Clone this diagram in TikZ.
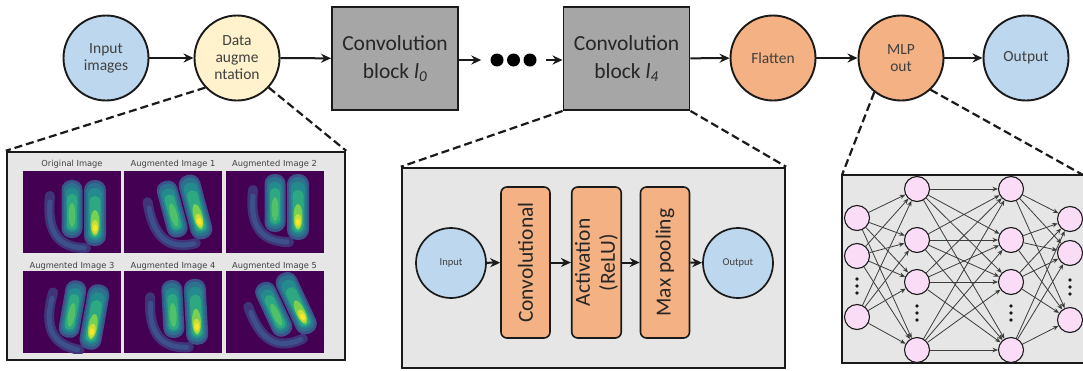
\documentclass[tikz,border=0pt]{standalone}
\usepackage{fontspec}
\setmainfont{Carlito}
\newfontfamily\plotfont{DejaVu Sans}
\usetikzlibrary{arrows.meta}

\definecolor{cblue}{HTML}{BDD7EE}
\definecolor{cyellow}{HTML}{FFF2CC}
\definecolor{corange}{HTML}{F4B183}
\definecolor{cgray}{HTML}{A6A6A6}
\definecolor{cpanel}{HTML}{E6E6E6}
\definecolor{cpink}{HTML}{FADCF6}
\definecolor{vpurple}{HTML}{440154}
\definecolor{vband}{HTML}{3E4A89}
\definecolor{v1}{HTML}{3B528B}
\definecolor{v2}{HTML}{2C728E}
\definecolor{v3}{HTML}{21918C}
\definecolor{v4}{HTML}{35B779}
\definecolor{v5}{HTML}{7AD151}
\definecolor{v6}{HTML}{FDE725}
\definecolor{ink}{HTML}{1A1A1A}
\definecolor{txt}{HTML}{404040}

\newcommand\capsule[5]{%
 \fill[#5, rounded corners=#3*0.46pt] (#1-#3/2,#2-#4/2) rectangle (#1+#3/2,#2+#4/2);}

\newcommand\heatmap[4]{%
\begin{scope}
\clip (#1,#2) rectangle ++(98,82);
\fill[vpurple] (#1,#2) rectangle ++(98,82);
\begin{scope}[shift={(#1+49,#2+41+#4)}, rotate=#3]
 \draw[vband!70!vpurple, line width=10pt, line cap=round] (-22,-16) .. controls (-26,22) and (-12,36) .. (14,36);
 \draw[v1!80!vband, line width=5pt, line cap=round] (-22,-10) .. controls (-25,22) and (-12,35) .. (12,36);
 \capsule{0}{-3}{21}{58}{v1}
 \capsule{0}{-3}{17}{52}{v2}
 \capsule{0}{-2}{13}{44}{v3!80!v2}
 \capsule{0}{0}{10}{36}{v3!40!v4}
 \fill[v4!60!v5] (0,3) ellipse [x radius=3.5, y radius=12];
 \capsule{23}{1}{22}{66}{v1}
 \capsule{23}{1}{18}{60}{v2}
 \capsule{23}{2}{14}{52}{v3!80!v2}
 \capsule{23}{5}{11}{42}{v3!40!v4}
 \fill[v5] (23,11) ellipse [x radius=4.5, y radius=13];
 \fill[v5!40!v6] (23,15) ellipse [x radius=3.5, y radius=7];
 \fill[v6] (23,16) ellipse [x radius=2.2, y radius=3.5];
\end{scope}
\end{scope}}

\begin{document}
\begin{tikzpicture}[x=1pt,y=-1pt,
  bubble/.style={circle, draw=ink, line width=1.9pt, minimum size=85pt, inner sep=0pt, align=center, text=txt, font=\fontsize{15.5}{17}\selectfont},
  smallbubble/.style={circle, draw=ink, line width=1.7pt, minimum size=70pt, inner sep=0pt, fill=cblue, text=txt, font=\fontsize{10.5}{12}\selectfont},
  convbox/.style={draw=ink, line width=1.9pt, fill=cgray, minimum width=126pt, minimum height=103pt, align=center, text=black!85, font=\fontsize{21.5}{28}\selectfont},
  bigdot/.style={circle, fill=black, minimum size=13pt, inner sep=0pt},
  flow/.style={-{Stealth[length=10pt,width=9pt]}, line width=2pt, draw=ink},
  zoomline/.style={dash pattern=on 8pt off 4pt, line width=2.2pt, draw=ink},
  panel/.style={draw=ink, line width=2.4pt, fill=cpanel, inner sep=0pt},
  layerbox/.style={draw=ink, line width=1.6pt, fill=corange, rounded corners=6pt, rotate=90, minimum width=151pt, minimum height=49pt, align=center, text=black!85, font=\fontsize{21.5}{25}\selectfont},
  neuron/.style={circle, draw=ink, line width=1.1pt, fill=cpink, minimum size=25pt, inner sep=0pt},
  nnedge/.style={-{Stealth[length=5.5pt,width=4.5pt]}, line width=0.8pt, draw=ink!85},
  ttl/.style={font=\plotfont\fontsize{8.3}{10}\selectfont, text=black!75, inner sep=0pt}
]
\useasboundingbox (0,0) rectangle (1083,370);
\fill[white] (0,0) rectangle (1083,370);

% ---------- top row ----------
\node[bubble, fill=cblue] (in) at (106,58) {Input\\images};
\node[bubble, fill=cyellow] (aug) at (237,58) {Data\\augme\\ntation};
\node[convbox] (c0) at (395,58.5) {Convolution\\block \textit{l\textsubscript{0}}};
\node[bigdot] (d1) at (497,60) {};
\node[bigdot] (d2) at (513.5,60) {};
\node[bigdot] (d3) at (530,60) {};
\node[convbox] (c4) at (626.5,58.5) {Convolution\\block \textit{l\textsubscript{4}}};
\node[bubble, fill=corange] (fl) at (773,58) {Flatten};
\node[bubble, fill=corange] (mlp) at (901,58) {MLP\\out};
\node[bubble, fill=cblue] (out) at (1026,58) {Output};

\draw[flow] (in) -- (aug);
\draw[flow] (aug) -- (c0);
\draw[flow, shorten >=9pt] (c0.east |- d1) -- (d1.west);
\draw[flow, shorten <=9pt] (d3.east) -- (c4.west |- d3);
\draw[flow] (c4) -- (fl);
\draw[flow] (fl) -- (mlp);
\draw[flow] (mlp) -- (out);

% ---------- panels ----------
\node[panel, minimum width=338pt, minimum height=208pt] (p1) at (176,256) {};
\node[panel, minimum width=383pt, minimum height=200pt] (p2) at (593.5,268) {};
\coordinate (p3nw) at (842,175);
\coordinate (p3ne) at (1083,175);
\fill[cpanel] (842,175) rectangle (1083,363);
\draw[draw=ink, line width=2.4pt] (1083,175) -- (842,175) -- (842,363) -- (1083,363);

\draw[zoomline] (aug.223) -- (p1.north west);
\draw[zoomline] (aug.-43) -- (p1.north east);
\draw[zoomline] (c4.south west) -- (p2.north west);
\draw[zoomline] (c4.south east) -- (p2.north east);
\draw[zoomline] (mlp.232) -- (p3nw);
\draw[zoomline] (mlp.-47) -- (p3ne);

% ---------- panel 1: augmented images ----------
\node[ttl] (t1) at (72,164) {Original Image};
\node[ttl] (t2) at (173,164) {Augmented Image 1};
\node[ttl] (t3) at (274.5,164) {Augmented Image 2};
\node[ttl] (t4) at (72,266) {Augmented Image 3};
\node[ttl] (t5) at (173,266) {Augmented Image 4};
\node[ttl] (t6) at (274.5,266) {Augmented Image 5};
\heatmap{23}{171}{0}{0}
\heatmap{124}{171}{15}{0}
\heatmap{226}{171}{0}{-6}
\heatmap{23}{271}{-10}{0}
\heatmap{124}{271}{3}{0}
\heatmap{226}{271}{25}{0}

% ---------- panel 2: convolution block ----------
\node[smallbubble] (pin) at (451,263) {Input};
\node[layerbox] (lconv) at (525.5,262.5) {Convolutional};
\node[layerbox] (lact) at (596.5,262.5) {Activation\\(ReLU)};
\node[layerbox] (lmax) at (665,262.5) {Max pooling};
\node[smallbubble] (pout) at (738,263) {Output};
\draw[flow] (pin) -- (lconv);
\draw[flow] (lconv) -- (lact);
\draw[flow] (lact) -- (lmax);
\draw[flow] (lmax) -- (pout);

% ---------- panel 3: MLP ----------
\foreach \n/\y in {1/218,2/256,3/317} \node[neuron] (a\n) at (857,\y) {};
\foreach \n/\y in {1/189,2/240,3/282,4/350} \node[neuron] (b\n) at (917,\y) {};
\foreach \n/\y in {1/189,2/240,3/282,4/350} \node[neuron] (c\n) at (1011,\y) {};
\foreach \n/\y in {1/219,2/253,3/320} \node[neuron] (e\n) at (1070,\y) {};
\foreach \s in {1,2,3} \foreach \t in {1,2,3,4} \draw[nnedge] (a\s) -- (b\t);
\foreach \s in {1,2,3,4} \foreach \t in {1,2,3,4} \draw[nnedge] (b\s) -- (c\t);
\foreach \s in {1,2,3,4} \foreach \t in {1,2,3} \draw[nnedge] (c\s) -- (e\t);
\foreach \x/\y in {857/286,917/313,1011/313,1070/287}
  \foreach \dy in {-7,0,7} \fill[ink] (\x,\y+\dy) circle (1.9);
\end{tikzpicture}
\end{document}
